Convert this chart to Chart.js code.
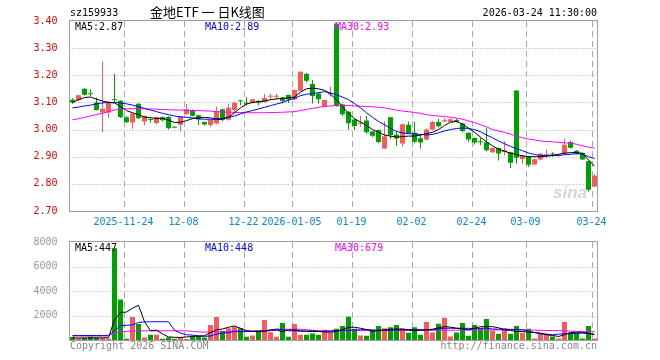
<!DOCTYPE html>
<html lang="zh">
<head>
<meta charset="UTF-8">
<title>金地ETF 日K线图</title>
<script src="https://cdn.jsdelivr.net/npm/chart.js@4"></script>
<style>
  body { margin: 0; background: #fff; }
  #wrap { position: relative; width: 660px; height: 360px; overflow: hidden;
          font-family: "DejaVu Sans Mono", monospace; font-size: 10px; color: #000; }
  canvas { position: absolute; left: 0; }
  #price { top: 0; }
  #vol { top: 232px; }
  .txt { position: absolute; white-space: nowrap; line-height: 12px; }
</style>
</head>
<body>
<div id="wrap">
  <canvas id="price" width="660" height="232"></canvas>
  <canvas id="vol" width="660" height="128"></canvas>
  <div class="txt" style="left:70px;top:7px;">sz159933</div>
  <div class="txt" style="left:150px;top:4px;font-family:'Noto Sans CJK SC';font-size:13px;line-height:16px;">金地ETF 一 日K线图</div>
  <div class="txt" style="right:63px;top:7px;">2026-03-24 11:30:00</div>
  <div class="txt" style="left:70px;top:340px;color:#888;">Copyright 2026 SINA.COM</div>
  <div class="txt" style="right:63px;top:340px;color:#888;">http://finance.sina.com.cn</div>
</div>
<script>
// trading days shown
const dates = [
  '2025-11-11','2025-11-12','2025-11-13','2025-11-14','2025-11-17','2025-11-18','2025-11-19','2025-11-20','2025-11-21',
  '2025-11-24','2025-11-25','2025-11-26','2025-11-27','2025-11-28',
  '2025-12-01','2025-12-02','2025-12-03','2025-12-04','2025-12-05','2025-12-08','2025-12-09','2025-12-10','2025-12-11','2025-12-12',
  '2025-12-15','2025-12-16','2025-12-17','2025-12-18','2025-12-19','2025-12-22','2025-12-23','2025-12-24','2025-12-25','2025-12-26',
  '2025-12-29','2025-12-30','2025-12-31',
  '2026-01-05','2026-01-06','2026-01-07','2026-01-08','2026-01-09','2026-01-12','2026-01-13','2026-01-14','2026-01-15','2026-01-16',
  '2026-01-19','2026-01-20','2026-01-21','2026-01-22','2026-01-23','2026-01-26','2026-01-27','2026-01-28','2026-01-29','2026-01-30',
  '2026-02-02','2026-02-03','2026-02-04','2026-02-05','2026-02-06','2026-02-09','2026-02-10','2026-02-11','2026-02-12','2026-02-13',
  '2026-02-24','2026-02-25','2026-02-26','2026-02-27',
  '2026-03-02','2026-03-03','2026-03-04','2026-03-05','2026-03-06','2026-03-09','2026-03-10','2026-03-11','2026-03-12','2026-03-13',
  '2026-03-16','2026-03-17','2026-03-18','2026-03-19','2026-03-20','2026-03-23','2026-03-24'
];
const tickDates = ['2025-11-24','2025-12-08','2025-12-22','2026-01-05','2026-01-19','2026-02-02','2026-02-24','2026-03-09','2026-03-24'];
const tickLabels = ['2025-11-24','12-08','12-22','2026-01-05','01-19','02-02','02-24','03-09','03-24'];

const opens = [3.110,3.109,3.150,3.132,3.100,3.063,3.063,3.111,3.106,3.045,
  3.026,3.095,3.030,3.037,3.024,3.045,3.046,3.009,3.018,3.057,
  3.072,3.053,3.028,3.017,3.022,3.075,3.036,3.072,3.106,3.097,
  3.099,3.106,3.102,3.121,3.121,3.118,3.127,3.111,3.143,3.205,
  3.168,3.133,3.084,3.130,3.390,3.092,3.066,3.037,3.021,3.033,
  2.993,2.998,2.930,3.045,2.981,2.949,3.018,2.988,2.968,2.963,
  3.000,3.028,3.030,3.028,3.035,3.022,2.988,2.969,2.955,2.953,
  2.916,2.932,2.917,2.916,3.144,2.892,2.901,2.871,2.890,2.905,
  2.910,2.903,2.911,2.954,2.922,2.914,2.883,2.790];
const highs = [3.115,3.128,3.152,3.148,3.118,3.250,3.105,3.206,3.108,3.050,
  3.060,3.097,3.052,3.042,3.048,3.048,3.050,3.012,3.050,3.094,
  3.074,3.055,3.030,3.037,3.084,3.077,3.096,3.102,3.109,3.118,
  3.114,3.108,3.131,3.133,3.131,3.120,3.129,3.148,3.215,3.208,
  3.183,3.135,3.110,3.159,3.392,3.095,3.068,3.040,3.050,3.050,
  2.995,3.000,3.030,3.046,2.993,3.022,3.030,3.028,2.985,3.004,
  3.032,3.040,3.042,3.040,3.040,3.025,2.990,2.972,2.969,3.006,
  2.934,2.934,2.957,2.918,3.145,2.906,2.903,2.893,2.913,2.926,
  2.916,2.910,2.966,2.960,2.924,2.916,2.885,2.836];
const lows = [3.095,3.104,3.125,3.124,3.070,2.990,3.044,3.100,3.043,3.024,
  3.003,3.039,3.016,3.026,3.020,3.030,3.000,3.005,2.993,3.055,
  3.048,3.016,3.015,3.010,3.020,3.030,3.033,3.062,3.090,3.088,
  3.096,3.090,3.100,3.111,3.111,3.096,3.099,3.108,3.140,3.173,
  3.096,3.096,3.082,3.122,3.084,3.050,3.000,2.998,3.010,2.985,
  2.972,2.950,2.928,2.965,2.940,2.937,2.984,2.950,2.930,2.960,
  2.998,3.008,3.028,3.026,3.025,2.990,2.955,2.945,2.942,2.920,
  2.914,2.886,2.905,2.858,2.874,2.874,2.862,2.868,2.887,2.895,
  2.899,2.900,2.907,2.930,2.908,2.888,2.772,2.788];
const closes = [3.100,3.126,3.128,3.130,3.072,3.077,3.100,3.108,3.046,3.028,
  3.059,3.042,3.050,3.035,3.046,3.034,3.005,3.007,3.047,3.075,
  3.051,3.037,3.019,3.035,3.068,3.036,3.080,3.099,3.104,3.095,
  3.112,3.100,3.116,3.123,3.123,3.105,3.111,3.146,3.213,3.180,
  3.124,3.112,3.109,3.132,3.086,3.056,3.023,3.013,3.023,2.990,
  2.977,2.954,2.975,2.980,2.967,3.020,2.986,2.955,2.952,3.000,
  3.028,3.012,3.034,3.038,3.030,2.995,2.963,2.952,2.953,2.924,
  2.932,2.912,2.924,2.878,2.896,2.904,2.870,2.891,2.911,2.907,
  2.908,2.905,2.944,2.933,2.911,2.890,2.778,2.830];

// moving averages
const ma5 = [3.100,3.110,3.118,3.120,3.112,3.105,3.100,3.098,3.085,3.070,
  3.062,3.055,3.046,3.044,3.040,3.042,3.035,3.026,3.027,3.033,
  3.040,3.044,3.045,3.043,3.040,3.040,3.046,3.062,3.080,3.094,
  3.100,3.102,3.105,3.110,3.113,3.115,3.116,3.120,3.138,3.150,
  3.153,3.150,3.145,3.130,3.110,3.085,3.060,3.040,3.028,3.015,
  3.000,2.990,2.980,2.976,2.972,2.974,2.976,2.976,2.980,2.985,
  2.990,3.000,3.015,3.027,3.030,3.020,3.005,2.990,2.972,2.955,
  2.940,2.928,2.920,2.913,2.908,2.903,2.900,2.900,2.900,2.902,
  2.905,2.909,2.913,2.915,2.916,2.912,2.888,2.865];
const ma10 = [3.080,3.083,3.087,3.090,3.095,3.098,3.100,3.100,3.098,3.095,
  3.090,3.084,3.078,3.072,3.066,3.060,3.055,3.050,3.047,3.045,
  3.043,3.040,3.038,3.038,3.037,3.038,3.045,3.050,3.058,3.065,
  3.070,3.076,3.082,3.088,3.094,3.100,3.108,3.115,3.125,3.130,
  3.133,3.136,3.140,3.135,3.128,3.120,3.110,3.096,3.080,3.062,
  3.045,3.030,3.018,3.005,2.993,2.988,2.985,2.984,2.982,2.980,
  2.982,2.988,2.995,3.000,3.004,3.006,3.004,3.000,2.992,2.980,
  2.970,2.958,2.948,2.938,2.930,2.922,2.914,2.908,2.905,2.904,
  2.904,2.905,2.907,2.909,2.911,2.910,2.900,2.893];
const ma30 = [3.036,3.040,3.045,3.050,3.055,3.060,3.066,3.072,3.076,3.077,
  3.077,3.077,3.076,3.076,3.075,3.074,3.073,3.072,3.072,3.071,
  3.070,3.070,3.069,3.068,3.066,3.065,3.064,3.063,3.063,3.062,
  3.062,3.062,3.062,3.063,3.063,3.064,3.065,3.066,3.070,3.074,
  3.078,3.082,3.085,3.087,3.089,3.089,3.088,3.087,3.086,3.085,
  3.084,3.082,3.080,3.076,3.072,3.068,3.066,3.063,3.060,3.055,
  3.052,3.050,3.048,3.045,3.042,3.038,3.032,3.026,3.018,3.010,
  3.000,2.995,2.990,2.983,2.976,2.970,2.965,2.962,2.958,2.956,
  2.955,2.953,2.951,2.950,2.946,2.940,2.935,2.932];

const volumes = [250,150,170,270,200,170,120,7500,3300,110,
  1870,1310,210,430,430,110,210,110,210,80,
  350,350,210,1230,1870,750,960,1090,960,270,
  370,750,1630,640,270,1390,270,1310,430,430,
  530,430,830,610,910,1150,1890,910,370,350,
  830,1150,960,1040,1230,960,590,1040,430,1470,
  610,1330,1810,290,610,1390,350,1230,960,1710,
  750,510,960,510,1150,590,910,130,510,430,
  290,130,1470,590,590,130,1150,130];
const volMa5 = [170,160,170,170,170,180,190,1650,2250,2280,
  2600,2830,1500,750,800,500,250,220,210,250,
  290,320,350,600,830,900,1040,1150,960,760,
  700,720,750,830,800,700,820,830,750,730,
  750,700,660,640,700,850,1040,1040,960,850,
  700,760,820,880,900,880,800,770,800,830,
  880,1000,1090,1050,960,900,830,950,1090,1090,
  1090,1000,830,780,700,690,640,610,520,430,
  370,290,430,610,640,620,560,447];
const volMa10 = [370,370,370,370,370,370,380,750,1170,1200,
  1230,1440,1480,1490,1490,1490,1490,800,560,430,
  400,330,300,330,480,560,600,690,690,690,
  690,690,690,800,900,850,750,750,720,700,
  690,690,700,720,760,780,800,820,830,840,
  830,800,790,800,820,840,850,850,840,830,
  850,900,960,960,960,960,950,940,960,960,
  900,880,880,870,860,830,740,600,560,480,
  430,480,510,520,540,560,520,448];
const volMa30 = [320,320,320,320,320,320,330,560,690,700,
  730,750,750,750,750,750,750,750,750,750,
  700,660,650,650,650,660,700,750,750,750,
  750,750,750,760,800,880,880,880,880,850,
  780,760,760,760,760,760,760,760,770,770,
  780,780,780,780,780,780,790,790,790,790,
  800,800,800,800,800,810,810,810,810,820,
  820,820,820,820,820,820,820,800,790,780,
  770,760,740,720,700,690,680,679];

const UP = '#f65a5a', DOWN = '#00a000';
const MONO = 'DejaVu Sans Mono';
const isUp = i => closes[i] >= opens[i];
const candleColor = ctx => isUp(ctx.dataIndex) ? UP : DOWN;

function maLine(label, data, color) {
  return { type: 'line', label, data, borderColor: color, borderWidth: 1,
           pointRadius: 0, fill: false, tension: 0, order: 1 };
}

// grid, frame and MA captions
function panelPlugin(hLines, captions) {
  return {
    id: 'panel',
    beforeDatasetsDraw(chart) {
      const { ctx, chartArea: a, scales: { x, y } } = chart;
      ctx.save();
      ctx.lineWidth = 1;
      ctx.strokeStyle = '#aaa';
      ctx.setLineDash([1, 2]);
      hLines.forEach(v => {
        const py = Math.round(y.getPixelForValue(v)) + 0.5;
        ctx.beginPath(); ctx.moveTo(a.left, py); ctx.lineTo(a.right, py); ctx.stroke();
      });
      ctx.setLineDash([6, 4]);
      tickDates.forEach(d => {
        const px = Math.round(x.getPixelForValue(dates.indexOf(d)) - 2.5) + 0.5;
        ctx.beginPath(); ctx.moveTo(px, a.top); ctx.lineTo(px, a.bottom); ctx.stroke();
      });
      ctx.restore();
    },
    afterDatasetsDraw(chart) {
      const { ctx, chartArea: a } = chart;
      ctx.save();
      ctx.strokeStyle = '#a0a0a0';
      ctx.lineWidth = 1;
      ctx.strokeRect(Math.round(a.left) - 0.5, Math.round(a.top) - 0.5,
                     Math.round(a.right - a.left), Math.round(a.bottom - a.top) + 1);
      ctx.font = '10px "' + MONO + '"';
      ctx.textBaseline = 'middle';
      captions.forEach(c => {
        ctx.fillStyle = c.color;
        ctx.fillText(c.text, c.x, a.top + 6);
      });
      if (chart.canvas.id === 'price') {
        ctx.font = 'italic bold 17px "Liberation Sans"';
        ctx.fillStyle = 'rgba(180,180,180,0.55)';
        ctx.fillText('sina', 553, a.bottom - 18);
      }
      ctx.restore();
    }
  };
}

Chart.defaults.animation = false;
Chart.defaults.font.family = MONO;
Chart.defaults.font.size = 10;

new Chart(document.getElementById('price'), {
  type: 'bar',
  data: {
    labels: dates,
    datasets: [
      maLine('MA5', ma5, '#000000'),
      maLine('MA10', ma10, '#0000ff'),
      maLine('MA30', ma30, '#ff00ff'),
      { label: 'body', data: opens.map((o, i) => [o, closes[i]]), backgroundColor: candleColor,
        barThickness: 5, minBarLength: 1, grouped: false, inflateAmount: 0, order: 2 },
      { label: 'wick', data: lows.map((l, i) => [l, highs[i]]), backgroundColor: candleColor,
        barThickness: 1, grouped: false, inflateAmount: 0, order: 3 }
    ]
  },
  options: {
    responsive: false,
    devicePixelRatio: 1,
    layout: { padding: { top: 21, right: 62.5, bottom: 0, left: 0 } },
    plugins: { legend: { display: false }, tooltip: { enabled: false } },
    scales: {
      x: {
        offset: true,
        grid: { display: false },
        border: { display: false },
        ticks: {
          autoSkip: false, maxRotation: 0, minRotation: 0, padding: -3, labelOffset: -3,
          color: '#0b83d9',
          callback: (v, i) => {
            const k = tickDates.indexOf(dates[i]);
            return k >= 0 ? tickLabels[k] : '';
          }
        },
        afterFit: s => { s.height = 21; }
      },
      y: {
        min: 2.7, max: 3.4,
        grid: { display: false },
        border: { display: false },
        ticks: { stepSize: 0.1, padding: 4, color: '#ee0000', callback: v => Number(v).toFixed(2) },
        afterFit: s => { s.width = 69.5; }
      }
    }
  },
  plugins: [panelPlugin([3.3, 3.2, 3.1, 3.0, 2.9, 2.8], [
    { text: 'MA5:2.87', x: 75, color: '#000000' },
    { text: 'MA10:2.89', x: 205, color: '#0000ff' },
    { text: 'MA30:2.93', x: 335, color: '#ff00ff' }
  ])]
});

new Chart(document.getElementById('vol'), {
  type: 'bar',
  data: {
    labels: dates,
    datasets: [
      maLine('MA5', volMa5, '#000000'),
      maLine('MA10', volMa10, '#0000ff'),
      maLine('MA30', volMa30, '#ff00ff'),
      { label: 'vol', data: volumes, backgroundColor: candleColor,
        barThickness: 5, grouped: false, inflateAmount: 0, order: 2 }
    ]
  },
  options: {
    responsive: false,
    devicePixelRatio: 1,
    layout: { padding: { top: 8, right: 62.5, bottom: 20, left: 0 } },
    plugins: { legend: { display: false }, tooltip: { enabled: false } },
    scales: {
      x: { offset: true, display: false },
      y: {
        min: 0, max: 8000,
        grid: { display: false },
        border: { display: false },
        ticks: { stepSize: 2000, padding: 4, color: '#999999', callback: v => v === 0 ? '' : String(v) },
        afterFit: s => { s.width = 69.5; }
      }
    }
  },
  plugins: [panelPlugin([2000, 4000, 6000], [
    { text: 'MA5:447', x: 75, color: '#000000' },
    { text: 'MA10:448', x: 205, color: '#0000ff' },
    { text: 'MA30:679', x: 335, color: '#ff00ff' }
  ])]
});
</script>
</body>
</html>
